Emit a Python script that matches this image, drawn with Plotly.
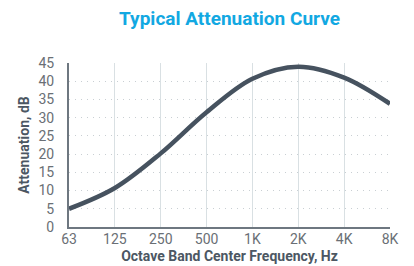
import plotly.graph_objects as go

freq_labels = ["63", "125", "250", "500", "1K", "2K", "4K", "8K"]
attenuation_db = [5.0, 10.7, 20.2, 31.5, 40.7, 44.0, 41.0, 33.8]
y_ticks = [0, 5, 10, 15, 20, 25, 30, 35, 40, 45]

x_idx = list(range(len(freq_labels)))

fig = go.Figure()
fig.add_trace(go.Scatter(
    x=x_idx, y=attenuation_db, mode="lines",
    line=dict(color="#46525f", width=4.5, shape="spline", smoothing=1.0),
    hoverinfo="skip", cliponaxis=True,
))

fig.update_layout(
    width=414, height=266,
    margin=dict(l=61, r=32, t=55, b=47),
    paper_bgcolor="white", plot_bgcolor="white",
    showlegend=False,
    title=dict(text="<b>Typical Attenuation Curve</b>", x=0.535, xanchor="center",
               y=0.962, yanchor="middle",
               font=dict(family="Roboto", size=19, color="#12a8e2")),
    xaxis=dict(
        range=[0, 7], tickvals=x_idx, ticktext=freq_labels,
        showgrid=True, gridcolor="#d9e0e3", gridwidth=1.2,
        showline=True, linecolor="#6e7780", linewidth=2,
        ticks="", ticklabelstandoff=-2,
        tickfont=dict(family="Roboto", size=14, color="#6a6f75"),
        title=dict(text="<b>Octave Band Center Frequency, Hz</b>", standoff=5,
                   font=dict(family="Roboto", size=14, color="#4c5763")),
        zeroline=False, fixedrange=True,
    ),
    yaxis=dict(
        range=[0, 45], tickvals=y_ticks,
        showgrid=True, gridcolor="#c9cfd3", gridwidth=1, griddash="1px,5px",
        showline=True, linecolor="#6e7780", linewidth=2,
        ticks="", ticklabelstandoff=10,
        tickfont=dict(family="Roboto", size=14, color="#6a6f75"),
        title=dict(text="<b>Attenuation, dB</b>", standoff=6,
                   font=dict(family="Roboto", size=14, color="#4c5763")),
        zeroline=False, fixedrange=True,
    ),
)

fig.write_html("out.html")
